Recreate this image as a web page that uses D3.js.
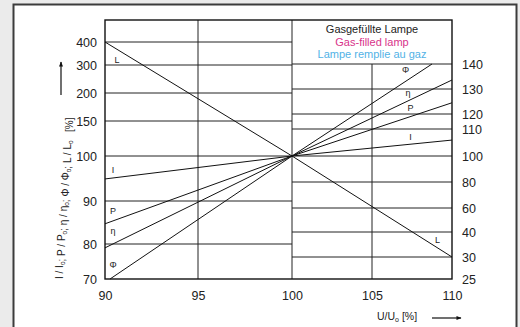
<!DOCTYPE html>
<html>
<head>
<meta charset="utf-8">
<script src="https://cdn.jsdelivr.net/npm/d3@7"></script>
<style>
  html, body { margin: 0; padding: 0; background: #ebebeb; }
  svg { display: block; font-family: "Liberation Sans", Arial, sans-serif; }
</style>
</head>
<body>
<div id="app"></div>
<script>
// x axis: U/U0 [%]
const xTicks = [90, 95, 100, 105, 110];
// left axis (90..100 half), right axis (100..110 half)
const leftTicks = [70, 80, 90, 100, 150, 200, 300, 400];
const rightTicks = [25, 30, 40, 60, 80, 100, 110, 120, 130, 140];

// series: start point (left axis) -> 100/100 -> end point (right axis)
const seriesNames = ['L', 'I', 'P', 'η', 'Φ'];
const startU = [90, 90, 90, 90, 90.27];
const startV = [400, 94.9, 84.7, 78.9, 70];
const endU = [110, 110, 110, 110, 108.75];
const endV = [30, 105.9, 124.5, 133.6, 140];

// curve labels in data coords
const labelLeftU = [90.64, 90.43, 90.43, 90.43, 90.43];
const labelLeftV = [309, 96.2, 87, 82.3, 73.1];
const labelRightU = [109.1, 107.4, 107.4, 107.25, 107.1];
const labelRightV = [35.6, 105.9, 121.2, 127.2, 136.4];

const titleLines = ['Gasgefüllte Lampe', 'Gas-filled lamp', 'Lampe remplie au gaz'];
const titleColors = ['#222', '#d8338a', '#52b2e6'];

const W = 520, H = 327;
const svg = d3.select('#app').append('svg')
  .attr('width', W)
  .attr('height', H);

// white panel
svg.append('rect')
  .attr('x', 13.5).attr('y', 4.5)
  .attr('width', 503).attr('height', 340)
  .attr('fill', '#fff')
  .attr('stroke', '#3c3c3c')
  .attr('stroke-width', 2);

// piecewise scales
const x = d3.scaleLinear().domain(xTicks).range([105, 198, 292, 372, 452]);
const yL = d3.scaleLinear().domain(leftTicks).range([279, 244, 201, 156, 121, 93, 65, 42]);
const yR = d3.scaleLinear().domain(rightTicks).range([279, 257, 232, 208, 182, 156, 129, 114, 89, 64]);

const plotTop = 20, plotBottom = 279;
const grid = svg.append('g').attr('stroke', '#222').attr('stroke-width', 1);

// left half gridlines
grid.selectAll('.gl')
  .data(leftTicks.filter(d => d > 70))
  .join('line')
  .attr('x1', x(90)).attr('x2', x(100))
  .attr('y1', d => yL(d)).attr('y2', d => yL(d));

// right half gridlines
grid.selectAll('.gr')
  .data(rightTicks.filter(d => d > 25))
  .join('line')
  .attr('x1', x(100)).attr('x2', x(110))
  .attr('y1', d => yR(d)).attr('y2', d => yR(d));

// verticals
grid.append('line')
  .attr('x1', x(95)).attr('x2', x(95))
  .attr('y1', plotTop).attr('y2', plotBottom);
grid.append('line')
  .attr('x1', x(100)).attr('x2', x(100))
  .attr('y1', plotTop).attr('y2', plotBottom);
grid.append('line')
  .attr('x1', x(105)).attr('x2', x(105))
  .attr('y1', yR(140)).attr('y2', plotBottom);

// frame
svg.append('rect')
  .attr('x', x(90)).attr('y', plotTop)
  .attr('width', x(110) - x(90)).attr('height', plotBottom - plotTop)
  .attr('fill', 'none')
  .attr('stroke', '#111')
  .attr('stroke-width', 1.4);

// header box text
svg.append('g')
  .selectAll('text')
  .data(titleLines)
  .join('text')
  .attr('x', (x(100) + x(110)) / 2)
  .attr('y', (d, i) => 33 + i * 12.5)
  .attr('text-anchor', 'middle')
  .attr('font-size', 11)
  .attr('fill', (d, i) => titleColors[i])
  .text(d => d);

// curves
const line = d3.line();
svg.append('g')
  .selectAll('path')
  .data(seriesNames)
  .join('path')
  .attr('d', (d, i) => line([
    [x(startU[i]), yL(startV[i])],
    [x(100), yL(100)],
    [x(endU[i]), yR(endV[i])]
  ]))
  .attr('fill', 'none')
  .attr('stroke', '#111')
  .attr('stroke-width', 1);

// curve labels
const lab = svg.append('g')
  .attr('font-size', 9)
  .attr('fill', '#222')
  .attr('text-anchor', 'middle');
lab.selectAll('.ll')
  .data(seriesNames)
  .join('text')
  .attr('x', (d, i) => x(labelLeftU[i]))
  .attr('y', (d, i) => yL(labelLeftV[i]))
  .text(d => d);
lab.selectAll('.lr')
  .data(seriesNames)
  .join('text')
  .attr('x', (d, i) => x(labelRightU[i]))
  .attr('y', (d, i) => yR(labelRightV[i]))
  .text(d => d);

// axes
const styleAxis = g => {
  g.select('.domain').remove();
  g.selectAll('text')
    .attr('font-size', 12.5)
    .attr('fill', '#222')
    .attr('font-family', '"Liberation Sans", Arial, sans-serif');
};

svg.append('g')
  .attr('transform', `translate(${x(90)},0)`)
  .call(d3.axisLeft(yL).tickValues(leftTicks).tickSize(0).tickPadding(8))
  .call(styleAxis);

svg.append('g')
  .attr('transform', `translate(${x(110)},0)`)
  .call(d3.axisRight(yR).tickValues(rightTicks).tickSize(0).tickPadding(10))
  .call(styleAxis);

svg.append('g')
  .attr('transform', `translate(0,${plotBottom})`)
  .call(d3.axisBottom(x).tickValues(xTicks).tickSize(0).tickPadding(12))
  .call(styleAxis);

// arrow marker
svg.append('defs').append('marker')
  .attr('id', 'arr')
  .attr('viewBox', '0 0 10 10')
  .attr('refX', 9).attr('refY', 5)
  .attr('markerWidth', 7).attr('markerHeight', 5)
  .attr('markerUnits', 'userSpaceOnUse')
  .attr('orient', 'auto')
  .append('path')
  .attr('d', 'M0,1 L10,5 L0,9 Z')
  .attr('fill', '#111');

// x title
const xt = svg.append('text')
  .attr('x', 377).attr('y', 320)
  .attr('font-size', 10.5)
  .attr('fill', '#222');
xt.append('tspan').text('U/U');
xt.append('tspan').attr('font-size', 7).attr('dy', 2).text('o');
xt.append('tspan').attr('dy', -2).text(' [%]');

svg.append('line')
  .attr('x1', 432).attr('x2', 461)
  .attr('y1', 318).attr('y2', 318)
  .attr('stroke', '#111').attr('stroke-width', 1.2)
  .attr('marker-end', 'url(#arr)');

// y title
const yParts = ['I / I', '; P / P', '; η / η', '; Φ / Φ', '; L / L'];
const yt = svg.append('text')
  .attr('transform', 'translate(63,279) rotate(-90)')
  .attr('font-size', 10)
  .attr('fill', '#222');
yParts.forEach(p => {
  yt.append('tspan').text(p);
  yt.append('tspan').attr('font-size', 6.5).attr('dy', 2).text('o');
  yt.append('tspan').attr('dy', -2).text('');
});
yt.append('tspan').text('\u00a0\u00a0\u00a0[%]');

svg.append('line')
  .attr('x1', 61).attr('x2', 61)
  .attr('y1', 95).attr('y2', 62)
  .attr('stroke', '#111').attr('stroke-width', 1.2)
  .attr('marker-end', 'url(#arr)');
</script>
</body>
</html>
